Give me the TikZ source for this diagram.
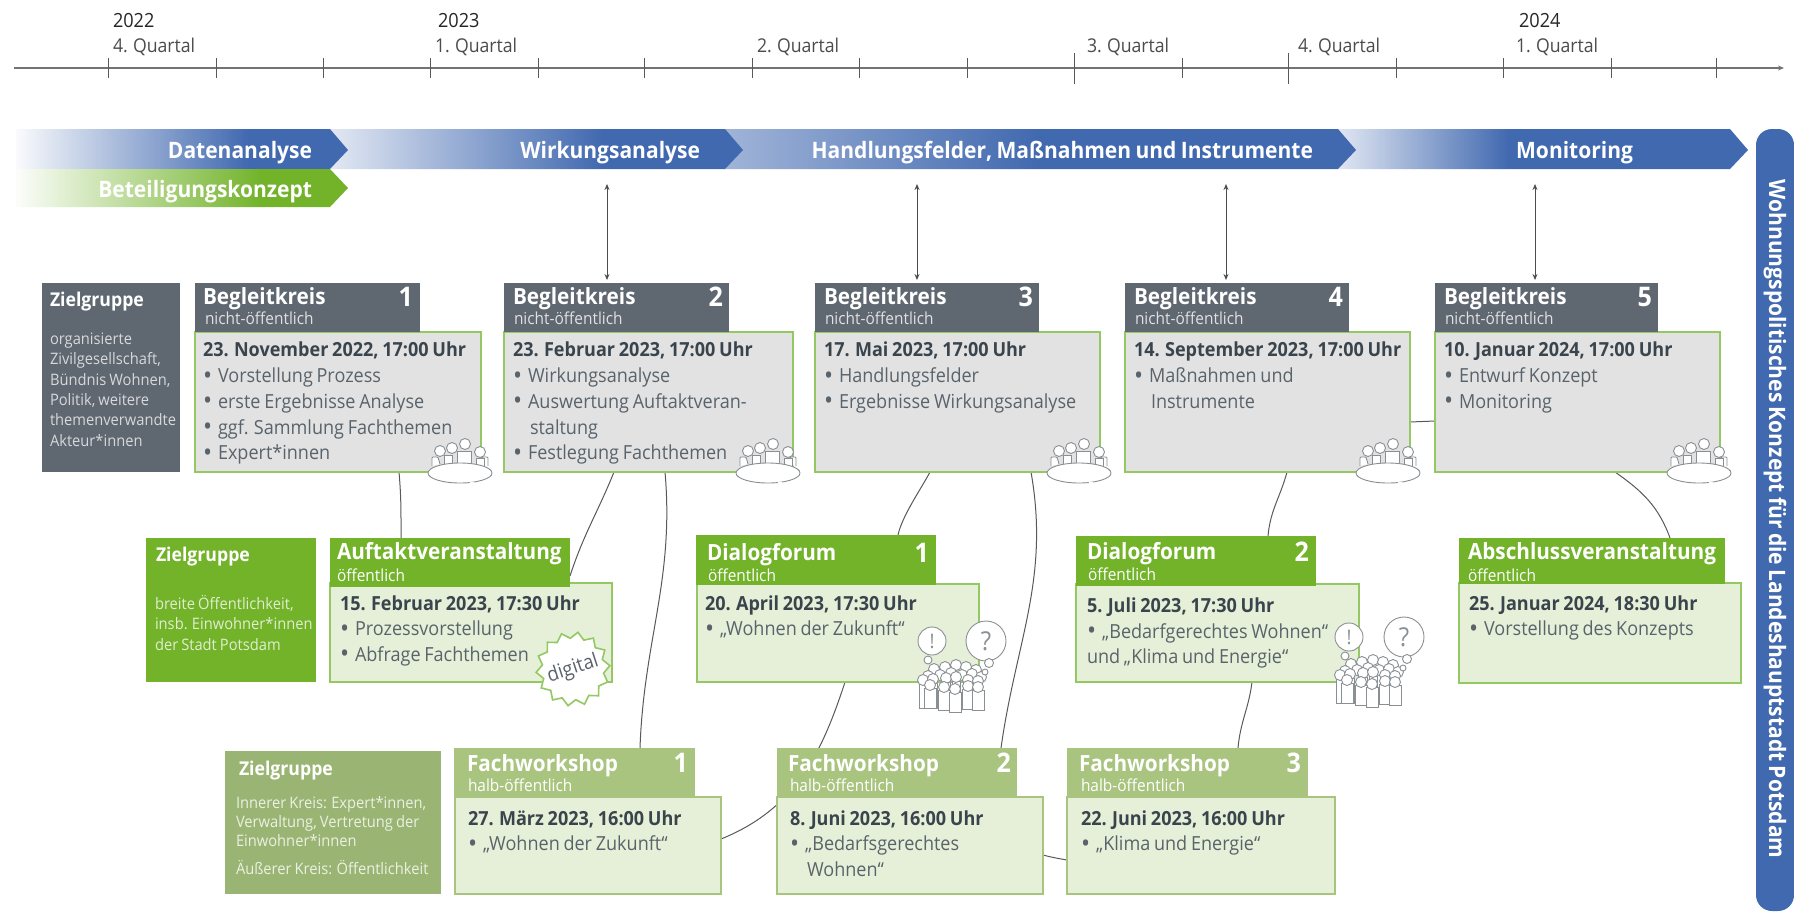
\documentclass[tikz,border=0pt]{standalone}
\usepackage{fontspec}
\setmainfont{Open Sans}[FakeStretch=0.93,WordSpace=0.8]
\newcommand{\semib}{\bfseries}
\usetikzlibrary{shapes.geometric,backgrounds,arrows.meta,calc}
\definecolor{cblue}{HTML}{4169B0}
\definecolor{cgreen}{HTML}{72B32A}
\definecolor{cgrey}{HTML}{5F6770}
\definecolor{clgreen}{HTML}{A9C47F}
\definecolor{czl}{HTML}{9AB573}
\definecolor{cborder}{HTML}{93C862}
\definecolor{cbgrey}{HTML}{E2E2E2}
\definecolor{cbgreen}{HTML}{E6F0D8}
\definecolor{ctext}{HTML}{59636B}
\definecolor{cdate}{HTML}{3A444C}
\definecolor{cicon}{HTML}{8A8F93}
\pgfdeclarehorizontalshading{sdaten}{100bp}{color(0bp)=(white); color(25bp)=(white!97!cblue); color(60bp)=(cblue); color(100bp)=(cblue)}
\pgfdeclarehorizontalshading{swirk}{100bp}{color(0bp)=(white); color(25bp)=(white!85!cblue); color(58bp)=(cblue); color(100bp)=(cblue)}
\pgfdeclarehorizontalshading{shand}{100bp}{color(0bp)=(white); color(25bp)=(white!50!cblue); color(50bp)=(cblue); color(100bp)=(cblue)}
\pgfdeclarehorizontalshading{smoni}{100bp}{color(0bp)=(white); color(25bp)=(white!85!cblue); color(46bp)=(cblue); color(100bp)=(cblue)}
\pgfdeclarehorizontalshading{sbet}{100bp}{color(0bp)=(white); color(25bp)=(white!98!cgreen); color(62bp)=(cgreen); color(100bp)=(cgreen)}
\tikzset{
  every node/.style={inner sep=0pt,outer sep=0pt},
  hgrey/.style={fill=cgrey},
  hgreen/.style={fill=cgreen},
  hlight/.style={fill=clgreen},
  zlight/.style={fill=czl},
  bgrey/.style={fill=cbgrey,draw=cborder,line width=1.6pt},
  bgreen/.style={fill=cbgreen,draw=cborder,line width=1.6pt},
  blight/.style={fill=cbgreen,draw=clgreen,line width=1.6pt},
  ttl/.style={text=white,font=\fontsize{22.3}{23}\selectfont\semib},
  subt/.style={text=white,font=\fontsize{16.6}{16}\selectfont},
  subg/.style={text=white!80!cgrey,font=\fontsize{16.6}{16}\selectfont},
  numr/.style={text=white,font=\fontsize{27}{26}\selectfont\semib},
  zhead/.style={text=white,font=\fontsize{19}{18}\selectfont\semib},
  ztext/.style={font=\fontsize{15.8}{14.5}\selectfont},
  bodyt/.style={text=ctext,align=left,anchor=north west,font=\fontsize{19.4}{25.7}\selectfont},
  band/.style={text=white,font=\fontsize{22.6}{23}\selectfont\semib},
  yeart/.style={text=black!85,font=\fontsize{19.5}{18}\selectfont},
  qt/.style={text=black!70,font=\fontsize{19}{17}\selectfont},
  conn/.style={draw=black!65,line width=1pt},
  dbl/.style={draw=black!70,line width=1pt,{Stealth[length=6pt,width=5pt]}-{Stealth[length=6pt,width=5pt]}},
  tick/.style={draw=black!65,line width=0.9pt},
  ico/.style={draw=cicon,line width=0.9pt,fill=white},
}
\newcommand{\boxn}[6]{\pgfmathsetmacro\bw{#5-#3}\pgfmathsetmacro\bh{#6-#4}\node[#2,anchor=north west,minimum width=\bw pt,minimum height=\bh pt] (#1) at (#3,#4) {};}
\newcommand{\tx}[5]{\node[#2,anchor=base west] (#1) at (#3,#4) {#5};}
\newcommand{\txr}[5]{\node[#2,anchor=base east] (#1) at (#3,#4) {#5};}
\newcommand{\dat}[1]{\strut\textcolor{cdate}{\textbf{#1}}}
\newcommand{\bul}[1]{\makebox[15pt][l]{\raisebox{-1.5pt}{\fontsize{26}{26}\selectfont\textbullet}}#1}
\newcommand{\ind}[1]{\makebox[17pt][l]{}#1}
\newcommand{\tableico}[1]{%
 \begin{scope}[shift={(#1,472)}]
  \draw[ico,rounded corners=1pt] (-28,-6) -- (-28,-15) -- (-22,-15) -- (-20,-8);
  \draw[ico,rounded corners=1pt] (28,-6) -- (28,-15) -- (22,-15) -- (20,-8);
  \draw[ico] (-16,-6) rectangle (-8,-17);
  \draw[ico] (-3,-6) rectangle (11,-21);
  \draw[ico] (16,-6) rectangle (24,-14);
  \draw[ico] (-20,-21) circle (5.5);
  \draw[ico] (-8,-24) circle (5.5);
  \draw[ico] (5,-28) circle (5.5);
  \draw[ico] (20,-20) circle (5.5);
  \draw[ico] (0,1) ellipse (32 and 10);
  \draw[white,line width=1.6pt] (10,11) -- (14,10.8);
 \end{scope}}
\newcommand{\crowdico}[2]{%
 \begin{scope}[shift={(#1,#2)}]
  \foreach \x/\y in {16/5,27/3,38/1,48/3,58/6} {\draw[ico] (\x,\y) circle (5.5);}
  \foreach \x/\y in {10/12,22/11,33/9,44/11,54/10,63/13} {\draw[ico] (\x,\y) circle (5.5);}
  \foreach \x/\y in {5/20,15/19,28/18,38/17,50/20,60/21} {\draw[ico] (\x-4,\y) rectangle (\x+4,44);\draw[ico] (\x,\y-4) circle (5.5);}
  \foreach \x/\y in {12/24,26/26,37/28,50/25,60/26} {\draw[ico] (\x-6,\y) rectangle (\x+6,\y+20);\draw[ico] (\x,\y-3) circle (5.5);}
 \end{scope}}
\newcommand{\bubbles}[5]{%
  \draw[ico] (#1,#2) circle (14);
  \node[text=cicon,font=\fontsize{20}{20}\selectfont] (#4) at (#1,#2) {!};
  \draw[ico] (#3,#2) circle (20);
  \node[text=cicon,font=\fontsize{26}{26}\selectfont] (#5) at (#3,#2) {?};
  \draw[ico] (#1-4,#2+19) circle (4);
  \draw[ico] (#3+3,#2+22) circle (4.5);
  \draw[ico] (#3-1,#2+31) circle (3);
}
\begin{document}
\begin{tikzpicture}[x=1pt,y=-1pt]
\useasboundingbox (0,0) rectangle (1794,911);

%% timeline
\coordinate (tlstart) at (14,68);
\coordinate (tlend) at (1784,68);
\draw[draw=black!55,line width=1.1pt,-{Stealth[length=6pt,width=5pt]}] (tlstart) -- (tlend);
\foreach \x in {108,216,323,430,538,644,752,859,967,1182,1396,1503,1611,1716}{\draw[tick] (\x,58) -- (\x,78);}
\foreach \x in {1074,1288}{\draw[tick] (\x,53) -- (\x,84);}
\tx{y22}{yeart}{113}{27}{2022}
\tx{y23}{yeart}{438}{27}{2023}
\tx{y24}{yeart}{1519}{27}{2024}
\tx{q4a}{qt}{113}{52}{4. Quartal}
\tx{q1a}{qt}{435}{52}{1. Quartal}
\tx{q2a}{qt}{757}{52}{2. Quartal}
\tx{q3a}{qt}{1087}{52}{3. Quartal}
\tx{q4b}{qt}{1298}{52}{4. Quartal}
\tx{q1b}{qt}{1516}{52}{1. Quartal}

%% bands
\path[shading=smoni] (1336,129) -- (1730,129) -- (1748,150) -- (1730,169) -- (1336,169) -- cycle;
\path[shading=shand] (724,129) -- (1338,129) -- (1356,150) -- (1338,169) -- (724,169) -- cycle;
\path[shading=swirk] (330,129) -- (725,129) -- (743,150) -- (725,169) -- (330,169) -- cycle;
\path[shading=sdaten] (16,129) -- (330,129) -- (348,150) -- (330,169) -- (16,169) -- cycle;
\path[shading=sbet] (16,169) -- (330,169) -- (348,188) -- (330,207) -- (16,207) -- cycle;
\txr{bd}{band}{312}{158}{Datenanalyse}
\txr{bw}{band}{700}{158}{Wirkungsanalyse}
\txr{bh}{band}{1313}{158}{Handlungsfelder, Maßnahmen und Instrumente}
\txr{bm}{band}{1633}{158}{Monitoring}
\txr{bb}{band}{312}{197}{Beteiligungskonzept}

%% right bar
\node[fill=cblue,rounded corners=16pt,anchor=north west,minimum width=38pt,minimum height=782pt] (bar) at (1756,129) {};
\node[band,rotate=-90] (bartxt) at (1775,519) {Wohnungspolitisches Konzept für die Landeshauptstadt Potsdam};

%% Zielgruppe boxes
\boxn{zg1}{hgrey}{42}{283}{180}{472}
\tx{zg1t}{zhead}{50}{306}{Zielgruppe}
\node[ztext,text=white!75!cgrey,align=left,anchor=north west,font=\fontsize{15.8}{20.4}\selectfont] (zg1x) at (50,330) {\strut organisierte\\Zivilgesellschaft,\\Bündnis Wohnen,\\Politik, weitere\\themenverwandte\\Akteur*innen};
\boxn{zg2}{hgreen}{146}{538}{316}{682}
\tx{zg2t}{zhead}{156}{561}{Zielgruppe}
\node[ztext,text=white!78!cgreen,align=left,anchor=north west,font=\fontsize{15.8}{20.4}\selectfont] (zg2x) at (155,595) {\strut breite Öffentlichkeit,\\insb. Einwohner*innen\\der Stadt Potsdam};
\boxn{zg3}{zlight}{225}{751}{441}{894}
\tx{zg3t}{zhead}{239}{775}{Zielgruppe}
\node[ztext,text=white!80!czl,align=left,anchor=north west,font=\fontsize{15.8}{19}\selectfont] (zg3x) at (236,795) {\strut Innerer Kreis: Expert*innen,\\Verwaltung, Vertretung der\\Einwohner*innen};
\tx{zg3y}{ztext,text=white!80!czl}{236}{874}{Äußerer Kreis: Öffentlichkeit}

%% Begleitkreis
\boxn{bk1b}{bgrey}{195}{332}{481}{472}
\boxn{bk1h}{hgrey}{195}{283}{420}{332}
\boxn{bk2b}{bgrey}{504}{332}{793}{472}
\boxn{bk2h}{hgrey}{504}{283}{729}{332}
\boxn{bk3b}{bgrey}{815}{332}{1100}{472}
\boxn{bk3h}{hgrey}{815}{283}{1039}{332}
\boxn{bk4b}{bgrey}{1125}{332}{1410}{472}
\boxn{bk4h}{hgrey}{1125}{283}{1349}{332}
\boxn{bk5b}{bgrey}{1435}{332}{1720}{472}
\boxn{bk5h}{hgrey}{1435}{283}{1658}{332}

\tx{bk1t}{ttl}{203}{304}{Begleitkreis}\tx{bk1s}{subg}{205}{324}{nicht-öffentlich}\txr{bk1n}{numr}{413}{306}{1}
\tx{bk2t}{ttl}{513}{304}{Begleitkreis}\tx{bk2s}{subg}{514}{324}{nicht-öffentlich}\txr{bk2n}{numr}{723}{306}{2}
\tx{bk3t}{ttl}{824}{304}{Begleitkreis}\tx{bk3s}{subg}{825}{324}{nicht-öffentlich}\txr{bk3n}{numr}{1033}{306}{3}
\tx{bk4t}{ttl}{1134}{304}{Begleitkreis}\tx{bk4s}{subg}{1135}{324}{nicht-öffentlich}\txr{bk4n}{numr}{1343}{306}{4}
\tx{bk5t}{ttl}{1444}{304}{Begleitkreis}\tx{bk5s}{subg}{1445}{324}{nicht-öffentlich}\txr{bk5n}{numr}{1652}{306}{5}

\node[bodyt] (bk1x) at (203,339) {\dat{23. November 2022, 17:00 Uhr}\\\bul{Vorstellung Prozess}\\\bul{erste Ergebnisse Analyse}\\\bul{ggf. Sammlung Fachthemen}\\\bul{Expert*innen}};
\node[bodyt] (bk2x) at (513,339) {\dat{23. Februar 2023, 17:00 Uhr}\\\bul{Wirkungsanalyse}\\\bul{Auswertung Auftaktveran-}\\\ind{staltung}\\\bul{Festlegung Fachthemen}};
\node[bodyt] (bk3x) at (824,339) {\dat{17. Mai 2023, 17:00 Uhr}\\\bul{Handlungsfelder}\\\bul{Ergebnisse Wirkungsanalyse}};
\node[bodyt] (bk4x) at (1134,339) {\dat{14. September 2023, 17:00 Uhr}\\\bul{Maßnahmen und}\\\ind{Instrumente}};
\node[bodyt] (bk5x) at (1444,339) {\dat{10. Januar 2024, 17:00 Uhr}\\\bul{Entwurf Konzept}\\\bul{Monitoring}};

%% Auftakt
\boxn{akb}{bgreen}{330}{583}{612}{682}
\boxn{akh}{hgreen}{330}{538}{570}{587}
\tx{akt}{ttl}{337}{559}{Auftaktveranstaltung}
\tx{aks}{subt}{337}{581}{öffentlich}
\node[bodyt] (akx) at (340,592) {\dat{15. Februar 2023, 17:30 Uhr}\\\bul{Prozessvorstellung}\\\bul{Abfrage Fachthemen}};
\node[star,star points=14,star point ratio=1.2,minimum size=74pt,draw=cborder,line width=1.6pt,fill=white,rotate=18] (dig) at (573,669) {};
\node[rotate=18,text=ctext,font=\fontsize{20}{20}\selectfont] (digt) at (dig.center) {digital};

%% Dialogforum
\boxn{df1b}{bgreen}{697}{584}{979}{682}
\boxn{df1h}{hgreen}{696}{535}{936}{585}
\tx{df1t}{ttl}{707}{560}{Dialogforum}\tx{df1s}{subt}{708}{581}{öffentlich}\txr{df1n}{numr}{929}{562}{1}
\node[bodyt] (df1x) at (705,592) {\dat{20. April 2023, 17:30 Uhr}\\\bul{„Wohnen der Zukunft“}};
\boxn{df2b}{bgreen}{1076}{584}{1359}{682}
\boxn{df2h}{hgreen}{1076}{536}{1316}{586}
\tx{df2t}{ttl}{1087}{559}{Dialogforum}\tx{df2s}{subt}{1088}{580}{öffentlich}\txr{df2n}{numr}{1309}{561}{2}
\node[bodyt] (df2x) at (1087,594.5) {\dat{5. Juli 2023, 17:30 Uhr}\\\bul{„Bedarfgerechtes Wohnen“}\\und „Klima und Energie“};

%% Abschluss
\boxn{abb}{bgreen}{1459}{583}{1741}{683}
\boxn{abh}{hgreen}{1459}{538}{1725}{584}
\tx{abt}{ttl}{1468}{559}{Abschlussveranstaltung}
\tx{abs}{subt}{1468}{581}{öffentlich}
\node[bodyt] (abx) at (1469,592) {\dat{25. Januar 2024, 18:30 Uhr}\\\bul{Vorstellung des Konzepts}};

%% Fachworkshop
\boxn{fw1b}{blight}{455}{797}{721}{894}
\boxn{fw1h}{hlight}{454}{748}{695}{797}
\tx{fw1t}{ttl}{467}{771}{Fachworkshop}\tx{fw1s}{subt}{468}{791}{halb-öffentlich}\txr{fw1n}{numr}{688}{772}{1}
\node[bodyt] (fw1x) at (468,807) {\dat{27. März 2023, 16:00 Uhr}\\\bul{„Wohnen der Zukunft“}};
\boxn{fw2b}{blight}{777}{797}{1043}{894}
\boxn{fw2h}{hlight}{777}{748}{1017}{797}
\tx{fw2t}{ttl}{788}{771}{Fachworkshop}\tx{fw2s}{subt}{790}{791}{halb-öffentlich}\txr{fw2n}{numr}{1011}{772}{2}
\node[bodyt] (fw2x) at (790,807) {\dat{8. Juni 2023, 16:00 Uhr}\\\bul{„Bedarfsgerechtes}\\\ind{Wohnen“}};
\boxn{fw3b}{blight}{1067}{797}{1335}{894}
\boxn{fw3h}{hlight}{1067}{748}{1308}{797}
\tx{fw3t}{ttl}{1079}{771}{Fachworkshop}\tx{fw3s}{subt}{1081}{791}{halb-öffentlich}\txr{fw3n}{numr}{1301}{772}{3}
\node[bodyt] (fw3x) at (1081,807) {\dat{22. Juni 2023, 16:00 Uhr}\\\bul{„Klima und Energie“}};

%% icons
\tableico{460}\tableico{768}\tableico{1079}\tableico{1388}\tableico{1699}
\crowdico{918}{664}
\bubbles{932}{641}{986}{ex1}{qu1}
\crowdico{1335}{659}
\bubbles{1349}{637}{1404}{ex2}{qu2}

%% double arrows
\coordinate (up2) at (607,184);
\coordinate (up3) at (917,184);
\coordinate (up4) at (1226,184);
\coordinate (up5) at (1535,184);
\draw[dbl,shorten >=3pt] (up2) -- ([xshift=103pt]bk2h.north west);
\draw[dbl,shorten >=3pt] (up3) -- ([xshift=102pt]bk3h.north west);
\draw[dbl,shorten >=3pt] (up4) -- ([xshift=101pt]bk4h.north west);
\draw[dbl,shorten >=3pt] (up5) -- ([xshift=100pt]bk5h.north west);

%% connectors
\begin{pgfonlayer}{background}
\fill[white] (0,0) rectangle (1794,911);
\draw[conn] ([xshift=204pt]bk1b.south west) to[out=-85,in=90] ([xshift=71pt]akh.north west);
\draw[conn] ([xshift=110pt]bk2b.south west) to[out=-112,in=72] ([yshift=-38pt]akh.north east);
\draw[conn] ([xshift=161pt]bk2b.south west) to[out=-85,in=88] ([xshift=186pt]fw1h.north west);
\draw[conn] ([xshift=115pt]bk3b.south west) to[out=-118,in=78,looseness=0.7] ([xshift=202pt]df1h.north west);
\draw[conn] ([xshift=216pt]bk3b.south west) to[out=-80,in=82] ([xshift=224pt]fw2h.north west);
\draw[conn] ([xshift=162pt]bk4b.south west) to[out=-105,in=85] ([xshift=192pt]df2h.north west);
\draw[conn] ([xshift=148pt]df1b.south west) to[out=-108,in=22] ([yshift=-42pt]fw1b.north east);
\draw[conn] ([xshift=176pt]df2b.south west) to[out=-97,in=85] ([xshift=171pt]fw3h.north west);
\draw[conn] ([yshift=-58pt]fw2b.north east) to[out=-15,in=170] ([yshift=-63pt]fw3b.north west);
\draw[conn] ([yshift=-90pt]bk4b.north east) -- ([yshift=-89pt]bk5b.north west);
\draw[conn] ([xshift=180pt]bk5b.south west) to[out=-35,in=110] ([xshift=211pt]abh.north west);
\end{pgfonlayer}
\end{tikzpicture}
\end{document}
